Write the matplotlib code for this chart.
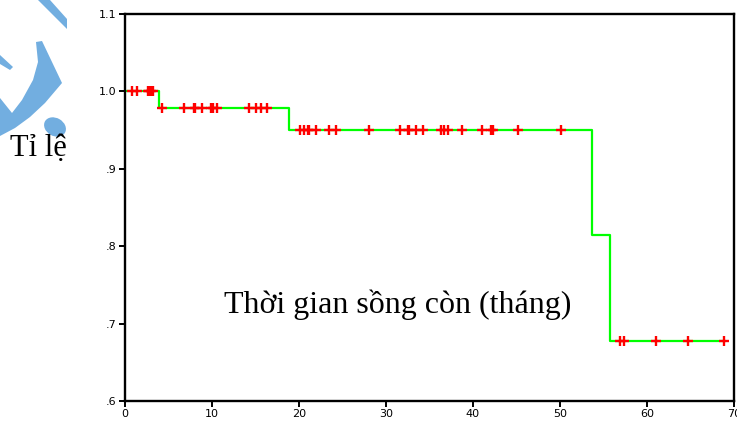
import numpy as np
import matplotlib.pyplot as plt
from matplotlib.patches import Polygon, Ellipse

# Kaplan-Meier step curve
event_t = [0, 3.9, 18.8, 53.7, 55.8, 68.8]
surv = [1.0, 0.979, 0.95, 0.815, 0.678, 0.678]

# censored observations (months)
censor_t = [0.8, 1.4, 2.6, 2.8, 3.0, 3.2,
            4.3, 6.8, 7.9, 8.1, 8.8, 9.9, 10.1, 10.6, 14.3, 15.1, 15.6, 16.3,
            20.1, 20.6, 21.0, 21.2, 22.0, 23.5, 24.2, 28.1, 31.6, 32.5, 32.7,
            33.5, 34.3, 36.3, 36.7, 37.1, 38.7, 41.0, 42.1, 42.3, 45.2, 50.1,
            56.9, 57.3, 61.0, 64.7, 68.8]

yticks = [0.6, 0.7, 0.8, 0.9, 1.0, 1.1]
ytick_labels = ['.6', '.7', '.8', '.9', '1.0', '1.1']
xticks = [0, 10, 20, 30, 40, 50, 60, 70]

fig = plt.figure(figsize=(7.37, 4.22), dpi=100)

# watermark logo at top-left, in pixel coordinates
bg = fig.add_axes([0, 0, 1, 1], zorder=0)
bg.set_xlim(0, 737)
bg.set_ylim(422, 0)
bg.axis('off')
blue = '#72aee0'
bg.add_patch(Polygon([(38, 0), (50, 0), (67, 19), (67, 29)], closed=True, color=blue, lw=0))
bg.add_patch(Polygon([(0, 55), (0, 64), (10, 70), (13, 67)], closed=True, color=blue, lw=0))
bg.add_patch(Polygon([(36, 42), (42, 41), (62, 83), (45, 103), (30, 117), (15, 128), (0, 136),
                      (0, 98), (12, 113), (22, 100), (33, 80), (38, 62)],
                     closed=True, color=blue, lw=0))
bg.add_patch(Ellipse((55, 127), 23, 18, angle=30, color=blue, lw=0))

fig.text(10 / 737, 1 - 149 / 422, 'Tỉ lệ', family='Liberation Serif', fontsize=22,
         va='center', ha='left')

ax = fig.add_axes([125 / 737, 1 - 401 / 422, (734 - 125) / 737, (401 - 14) / 422], zorder=1)
ax.step(event_t, surv, where='post', color='#00ff00', lw=1.6, zorder=2)

idx = np.searchsorted(event_t, censor_t, side='right') - 1
censor_s = np.array(surv)[idx]
ax.plot(censor_t, censor_s, ls='none', marker='+', color='red', ms=7, mew=1.7, zorder=3)

ax.set_xlim(0, 70)
ax.set_ylim(0.6, 1.1)
ax.set_xticks(xticks)
ax.set_yticks(yticks)
ax.set_yticklabels(ytick_labels)
for s in ax.spines.values():
    s.set_linewidth(1.7)
ax.tick_params(direction='out', length=4, width=1.4, labelsize=8, pad=2)
for lab in ax.get_xticklabels() + ax.get_yticklabels():
    lab.set_family('DejaVu Sans')

ax.text(31.4, 0.725, 'Thời gian sồng còn (tháng)', family='Liberation Serif',
        fontsize=23, ha='center', va='center')

fig.savefig('out.png', dpi=100)
